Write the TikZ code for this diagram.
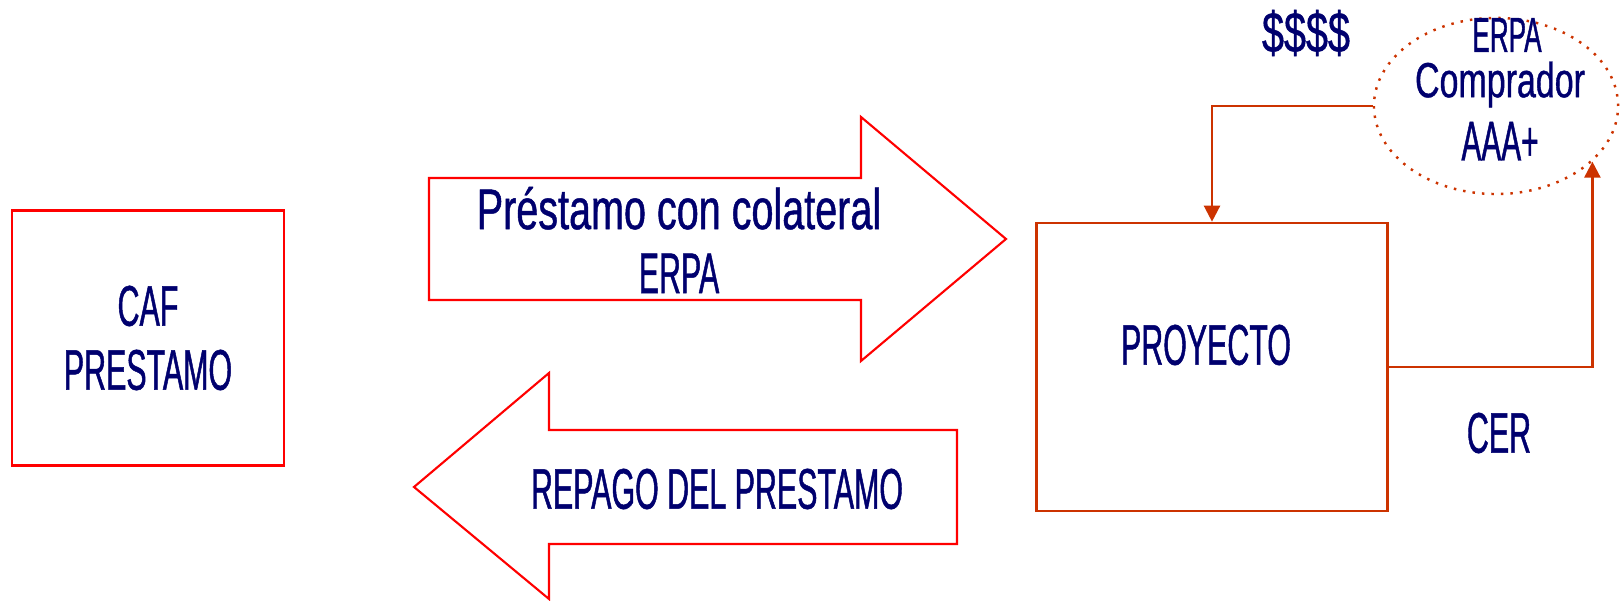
\documentclass[tikz,border=0pt]{standalone}
\usepackage{fontspec}
\newfontfamily\agfont[FakeStretch=0.53,FakeBold=0.8]{Liberation Sans}
\newfontfamily\agwide[FakeStretch=0.69,FakeBold=0.8]{Liberation Sans}
\usetikzlibrary{positioning, arrows.meta, shapes.geometric}
\definecolor{navytxt}{RGB}{0,0,110}
\definecolor{outred}{RGB}{255,0,0}
\definecolor{linkred}{RGB}{204,51,0}

\begin{document}
\begin{tikzpicture}[x=0.01cm,y=-0.01cm,
        txt/.style={text=navytxt,align=center,inner sep=0pt,font=\agfont\fontsize{16.3pt}{18.2pt}\selectfont},
        small/.style={txt,font=\agfont\fontsize{14pt}{18pt}\selectfont},
        block/.style={draw=outred,line width=0.6pt},
        link/.style={draw=linkred,line width=0.7pt,-{Triangle[width=0.16cm,length=0.16cm]}}]
    \useasboundingbox (0,0) rectangle (1621,601);
    % left box
    \node[txt,draw=outred,line width=0.7pt,minimum width=2.72cm,minimum height=2.55cm] (caf) at (148,338) {CAF\\PRESTAMO};
    % project box
    \node[draw=linkred,line width=0.7pt,minimum width=3.51cm,minimum height=2.88cm] (proj) at (1212,367) {};
    \node[txt] (projtxt) at (1206,345) {PROYECTO};
    \node[txt] (cer) at (1499,433) {CER};
    % buyer
    \node[draw=linkred,dotted,line width=0.7pt,ellipse,inner sep=0pt,minimum width=2.44cm,minimum height=1.76cm] (buyer) at (1496,106) {};
    \node[small] (erpa) at (1507,35) {ERPA};
    \node[small] (buyertxt) at (1500,111) {{\agwide Comprador}\\{\fontsize{16pt}{18pt}\selectfont AAA+}};
    \node[txt] (money) at (1306,33) {\agwide\$\$\$\$};
    % block arrows
    \draw[block] (429,178)--(861,178)--(861,117)--(1006,239)--(861,361)--(861,300)--(429,300)--cycle;
    \node[txt] (loan) at (679,240) {{\agwide Préstamo con colateral}\\ERPA};
    \draw[block] (414,487)--(549,373)--(549,430)--(957,430)--(957,544)--(549,544)--(549,599)--cycle;
    \node[txt] (repay) at (717,489) {REPAGO DEL PRESTAMO};
    % links
    \draw[link] (buyer.west) -| (proj.north);
    \draw[link] (proj.east) -| (buyer.-30);
\end{tikzpicture}
\end{document}
